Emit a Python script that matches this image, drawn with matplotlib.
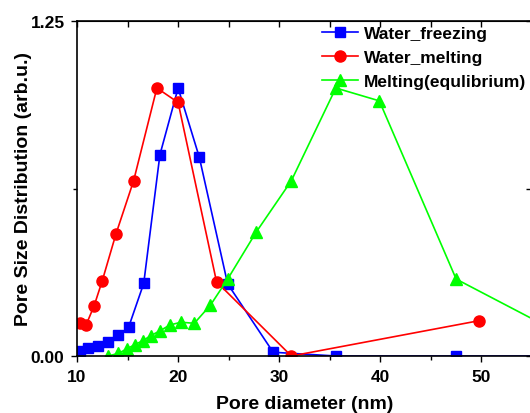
import matplotlib
matplotlib.use("Agg")
import matplotlib.pyplot as plt
from matplotlib.ticker import MultipleLocator, FixedLocator, FormatStrFormatter

plt.rcParams['font.family'] = ['Liberation Sans', 'DejaVu Sans']
plt.rcParams['font.weight'] = 'bold'

# Pore diameter (nm) and normalised distribution for each series
freeze_x = [10.3, 11.1, 12.1, 13.1, 14.1, 15.1, 16.6, 18.2, 20.0, 22.1, 24.9, 29.4, 35.6, 47.5, 58.0]
freeze_y = [0.020, 0.030, 0.038, 0.053, 0.078, 0.107, 0.271, 0.751, 1.000, 0.741, 0.269, 0.014, 0.0, 0.0, 0.0]

melt_x = [10.3, 10.9, 11.7, 12.5, 13.85, 15.6, 17.9, 20.0, 23.8, 31.2, 49.8]
melt_y = [0.122, 0.116, 0.188, 0.281, 0.455, 0.654, 1.000, 0.946, 0.277, 0.0, 0.132]

eq_x = [13.1, 14.1, 14.9, 15.7, 16.5, 17.3, 18.2, 19.2, 20.3, 21.6, 23.2, 24.9, 27.7, 31.2, 35.6, 39.9, 47.5, 57.5]
eq_y = [0.0, 0.010, 0.026, 0.042, 0.057, 0.076, 0.094, 0.116, 0.126, 0.122, 0.190, 0.287, 0.461, 0.654, 1.000, 0.952, 0.287, 0.090]

labels = ['Water_freezing', 'Water_melting', 'Melting(equlibrium)']

W, H = 530, 414
fig = plt.figure(figsize=(W / 100, H / 100), dpi=100)
ax = fig.add_axes([77 / W, (H - 357) / H, (532 - 77) / W, (357 - 22) / H])

ax.plot(freeze_x, freeze_y, color='#0000ff', marker='s', markersize=7, lw=1.2, label=labels[0])
ax.plot(melt_x, melt_y, color='#ff0000', marker='o', markersize=8, lw=1.2, label=labels[1])
ax.plot(eq_x, eq_y, color='#00ff00', marker='^', markersize=9, lw=1.2, label=labels[2])

ax.set_xlim(10, 55)
ax.set_ylim(0, 1.25)

ax.xaxis.set_major_locator(MultipleLocator(10))
ax.xaxis.set_minor_locator(MultipleLocator(5))
ax.yaxis.set_major_locator(FixedLocator([0, 1.25]))
ax.yaxis.set_minor_locator(FixedLocator([0.625]))
ax.yaxis.set_major_formatter(FormatStrFormatter('%.2f'))

ax.tick_params(axis='both', which='both', direction='out', width=1.0,
               labelsize=12.5, top=False, right=False)
ax.tick_params(axis='x', which='major', length=4.5, pad=5)
ax.tick_params(axis='x', which='minor', length=3)
ax.tick_params(axis='y', which='major', length=4.5, pad=4.5)
ax.tick_params(axis='y', which='minor', length=3)
for lab in ax.get_xticklabels() + ax.get_yticklabels():
    lab.set_fontweight('bold')

# Inward ticks on the top and right frame
top = ax.secondary_xaxis('top')
top.xaxis.set_major_locator(MultipleLocator(5))
top.tick_params(direction='in', length=4, width=1.0, labeltop=False)
right = ax.secondary_yaxis('right')
right.yaxis.set_major_locator(FixedLocator([0, 0.625, 1.25]))
right.tick_params(direction='in', length=4, width=1.0, labelright=False)

for sp in ax.spines.values():
    sp.set_linewidth(1.2)

ax.set_xlabel('Pore diameter (nm)', fontsize=14, fontweight='bold', labelpad=8)
ax.set_ylabel('Pore Size Distribution (arb.u.)', fontsize=14, fontweight='bold', labelpad=-1.5)

leg = ax.legend(loc='upper left', bbox_to_anchor=(322 / W, 1 - 27 / H),
                bbox_transform=fig.transFigure, frameon=False,
                borderpad=0, borderaxespad=0, handlelength=2.1,
                handletextpad=0.3, labelspacing=0.5,
                prop={'size': 12.5, 'weight': 'bold'})

fig.savefig('out.png', dpi=100)
